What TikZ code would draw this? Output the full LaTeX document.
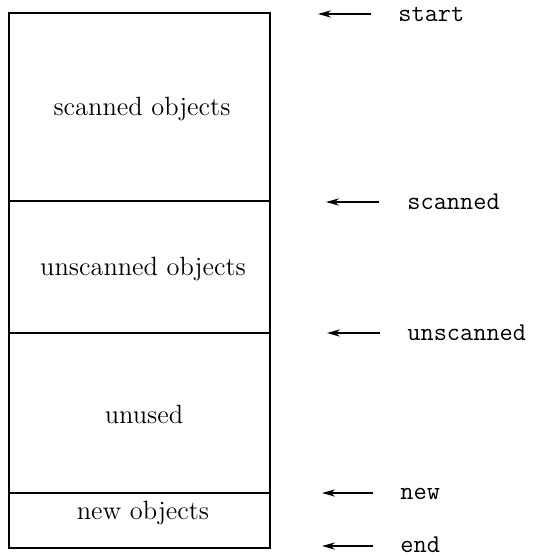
\documentclass[tikz,border=0pt]{standalone}
\usetikzlibrary{arrows.meta}
\begin{document}
\begin{tikzpicture}[x=0.5pt,y=-0.5pt,
  region/.style={font=\fontsize{13.2}{15}\selectfont,anchor=base,inner sep=0pt},
  ptr/.style={font=\fontsize{12.8}{15}\ttfamily,anchor=base west,inner sep=0pt},
  frame/.style={line width=1pt},
  pointer/.style={line width=0.7pt,-{Stealth[length=6.5pt,width=3.6pt]}}]
\useasboundingbox (0,0) rectangle (532,556);
% box
\coordinate (tl) at (9,13.5);
\coordinate (br) at (270,548);
\draw[frame] (tl) rectangle (br);
\coordinate (d1l) at (9,201); \coordinate (d1r) at (270,201);
\coordinate (d2l) at (9,333); \coordinate (d2r) at (270,333);
\coordinate (d3l) at (9,493); \coordinate (d3r) at (270,493);
\draw[frame] (d1l) -- (d1r);
\draw[frame] (d2l) -- (d2r);
\draw[frame] (d3l) -- (d3r);
% region labels
\node[region] (r1) at (142,116) {scanned objects};
\node[region] (r2) at (143,275) {unscanned objects};
\node[region] (r3) at (144,423) {unused};
\node[region] (r4) at (143,519) {new objects};
% pointer labels
\node[ptr] (p1) at (398,22) {start};
\node[ptr] (p2) at (407,209) {scanned};
\node[ptr] (p3) at (407,340) {unscanned};
\node[ptr] (p4) at (400,499) {new};
\node[ptr] (p5) at (400,552) {end};
% arrow ends
\coordinate (t1) at (371,14);  \coordinate (h1) at (318,14);
\coordinate (t2) at (379,202); \coordinate (h2) at (326,202);
\coordinate (t3) at (380,333); \coordinate (h3) at (327,333);
\coordinate (t4) at (373,493); \coordinate (h4) at (322,493);
\coordinate (t5) at (373,546); \coordinate (h5) at (322,546);
\draw[pointer] (t1) -- (h1);
\draw[pointer] (t2) -- (h2);
\draw[pointer] (t3) -- (h3);
\draw[pointer] (t4) -- (h4);
\draw[pointer] (t5) -- (h5);
\end{tikzpicture}
\end{document}
